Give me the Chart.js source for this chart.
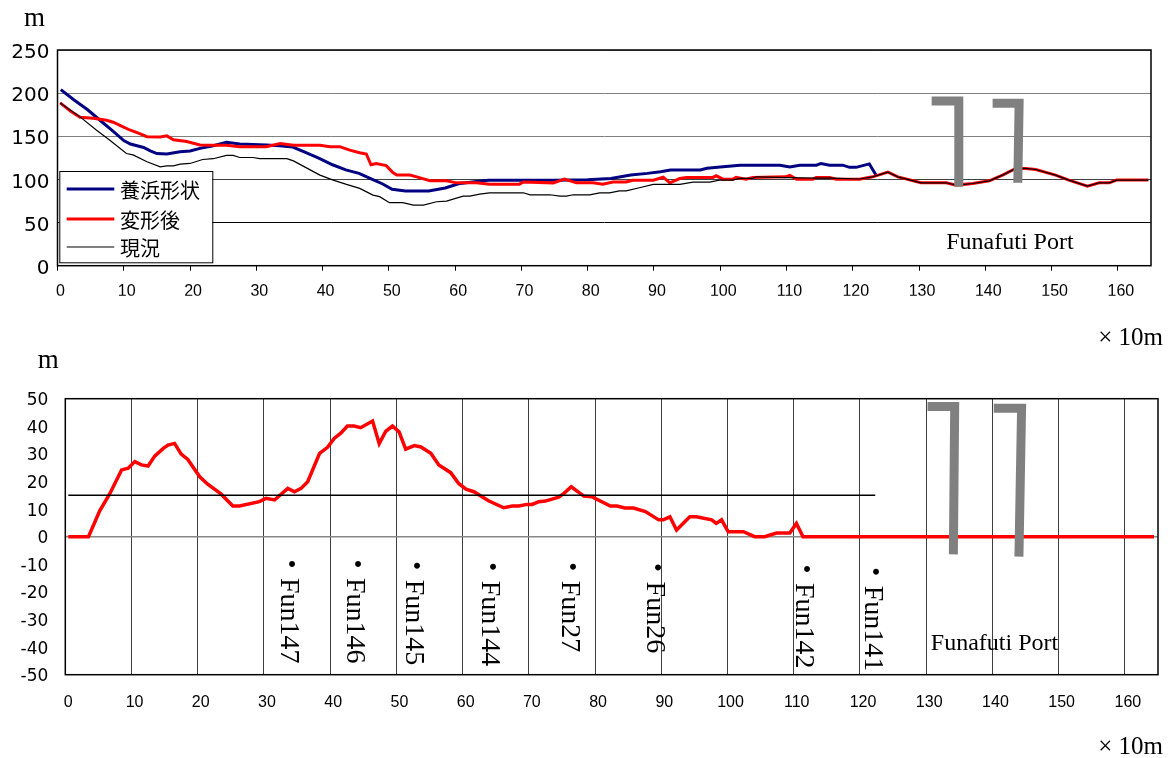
<!DOCTYPE html>
<html>
<head>
<meta charset="utf-8">
<script src="https://cdn.jsdelivr.net/npm/chart.js@4.4.1/dist/chart.umd.min.js"></script>
<style>
  html, body { margin: 0; padding: 0; background: #fff; }
  #wrap { position: relative; width: 1173px; height: 758px; overflow: hidden; }
  canvas { position: absolute; left: 0; top: 0; }
</style>
</head>
<body>
<div id="wrap">
  <canvas id="plan" width="1173" height="758"></canvas>
  <canvas id="diff" width="1173" height="758"></canvas>
</div>
<script>
// ---- Shoreline position (m), distance along coast in units of 10 m ----
const nourishX = [0.5,2.5,4.5,6.5,8.5,10,11,12,13,14,15,16.5,18.5,20,21.5,23.5,25.5,27.5,29.5,31.5,33.5,35.5,37.5,39.5,41.5,43.5,45.5,47.5,49,50.5,52.5,56,58.5,60.5,63.5,65,70,75,80,83.5,86.5,89,91,92.5,97,98,100,103,109,110.5,112,114.5,115.2,116.5,118.5,119.5,120.5,122.5,123.5];
const nourishY = [204,192,181,168,155,145,141,139,137,133,130,129.5,132,133,136,139,143,141,140.5,140,139,137.5,131,124.5,117,111,107,100,95,88.5,86.5,86.5,90,95,98,99,99,99,99.5,101,105,107,109,111,111,113,114.5,116.5,116.5,114.5,116.5,116.5,118.5,116.5,116.5,114,114,118,105];

const afterX = [0.4,2,3.4,5.4,7.4,8.4,9.9,11,12.4,13.5,15.5,16.5,17.5,19.5,21.5,23.5,25.5,27.5,31.5,33.6,35.6,39.6,41.1,42.6,44.1,45.6,46.6,47.3,48.1,49.6,50.6,51.2,53.2,54.2,56.2,58.7,60.2,63.2,65.2,69.7,70.3,74.8,76.5,78.3,80.8,82.3,83.8,85.8,86.8,89.9,91.4,92.4,93.9,94.9,98.9,99.4,100.4,101.9,102.4,103.9,104.9,109.9,110.5,111.5,114,114.5,116.5,117.5,121,123,125.3,126.8,130.3,134.1,135.6,138.1,140.6,142.6,144.6,146.1,147.6,150.6,152.6,155.4,157.2,158.7,159.8,164.6];
const afterY = [188.7,179,172,171,168.6,166.3,161,157,153,149.5,149.3,150.5,146,144,140,139.5,139.5,138,138,141.5,139.5,139.5,138,138,134,131,129.5,117,118.5,116,108,105,105,103,98.5,98.5,96,96,94.5,94.5,97,96,100.3,96,96,94.5,97,97,99,99,102.5,96,101,102.3,102.3,104.2,100.3,100.3,102.3,100.3,102.3,103,104.6,100.3,100.3,102.3,102.3,100.3,100.3,103,108.4,103,96.1,96.1,93.4,95.3,98.4,105,112.7,112.7,111.5,105,99.2,92.2,96.1,96.1,99.2,99.2];

const presentX = [0.4,3.4,5.9,7.9,10.4,11.4,13.5,15.5,16.5,17.5,18.5,20,21.9,23.5,25.5,26.5,27.5,29.5,30.5,34.6,35.6,39.6,41.6,43.6,45.6,47.6,48.6,50.1,52.1,53.7,55.2,57.2,58.7,61.2,62.2,63.7,65.2,70.3,71.3,74.3,75.8,76.8,77.8,80.3,81.8,83.3,84.8,85.8,87.8,89.9,93.9,95.9,98.4,99.9,101.9,102.9,104.9,105.4,110,114.5,117,121,123,125.3,126.8,130.3,134.1,135.6,138.1,140.6,142.6,144.6,146.1,147.6,150.6,152.6,155.4,157.2,158.7,159.8,164.6];
const presentY = [188.7,172.5,157,145.5,130,128.4,120.4,114.6,115.8,115.8,117.7,118.5,123.1,124,127.8,127.8,125.4,125.4,124,124,121.5,105,99.2,94.2,89.6,81.8,80,73,73,70.3,70.3,74.1,74.8,80.7,80.7,83,84.5,84.5,82.2,82.2,80.7,80.7,82.2,82.2,84.5,84.5,86.8,86.8,90.3,94.2,94.2,96.9,96.9,99.2,99.2,101.1,101.1,103,102,101.5,101.5,100.5,103,108.4,103,96.1,96.1,93.4,95.3,98.4,105,112.7,112.7,111.5,105,99.2,92.2,96.1,96.1,99.2,99.2];

// ---- Shoreline advance after deformation (m) ----
const advanceX = [0.45,3.5,5.2,6.7,8.5,9.5,10.5,11.5,12.5,13.5,14.8,15.5,16.5,17.5,18.5,20.3,21.5,23.5,25.3,26.3,29.3,30.3,31.6,33.6,34.6,35.6,36.6,38.4,39.6,40.6,41.6,42.6,43.6,44.6,46.4,47.4,48.4,49.4,50.4,51.4,52.7,53.7,55.2,56.4,58.2,59.4,60.5,61.7,63.9,66.2,67.5,68.5,69.7,70.5,71.5,72.5,74.5,75.3,76.4,78.3,79.5,82.3,83.3,84.5,85.8,87.6,89.6,90.3,91.3,92.3,94.3,95.3,97.6,98.3,99.1,100.1,102.4,104.1,105.6,107.4,109.4,110.4,111.4,164.4];
const advanceY = [0,0,9.4,15.5,24.2,24.8,27.2,26,25.6,29.2,32,33.2,33.8,29.9,28,21.7,19,15.5,11.1,11.1,12.7,13.9,13.3,17.5,16.3,17.5,19.9,30.2,32.4,35.6,37.5,40.1,40.1,39.5,41.9,33.7,38.2,40.1,38,31.7,33,32.5,30.2,26,23.2,19.3,17.2,16.3,13,10.5,11.1,11.1,11.7,11.7,12.7,12.9,14.3,15.7,18.1,14.7,14.5,11.1,11.1,10.4,10.4,9.1,6.1,6.1,7.2,2.4,7.2,7.2,6.1,4.8,6.1,1.8,1.8,0,0,1.3,1.3,4.8,0,0];

// reference advance line (15 m) over the nourished reach
const refLineX = [0.45, 122.3];
const refLineY = [15, 15];

// ---- Port breakwaters (plan outline) ----
const pierAX = [131.9, 136.0, 136.0], pierAY = [190.9, 190.9, 91.4];
const pierBX = [141.1, 145.1, 144.9], pierBY = [188.3, 188.3, 96.1];
const pierAX2 = [130.2, 134.3, 134.1], pierAY2 = [47.2, 47.2, -6.4];
const pierBX2 = [140.2, 144.4, 144.0], pierBY2 = [46.5, 46.5, -7.2];

// ---- Survey stations ----
const stationNames = ['・Fun147','・Fun146','・Fun145','・Fun144','・Fun27','・Fun26','・Fun142','・Fun141'];
const stationX = [34.2, 44.1, 53.0, 64.5, 76.6, 89.5, 111.9, 122.3];
const stationY = [-9.9, -9.9, -10.5, -10.9, -10.9, -11.2, -11.7, -12.7];

// ---- Axis ticks ----
const xTicks = [0,10,20,30,40,50,60,70,80,90,100,110,120,130,140,150,160];
const planYTicks = [0,50,100,150,200,250];
const diffYTicks = [-50,-40,-30,-20,-10,0,10,20,30,40,50];

const seriesNames = ['養浜形状', '変形後', '現況'];

const toPoints = (xs, ys) => xs.map((x, i) => ({ x: x, y: ys[i] }));
const setTicks = vals => scale => { scale.ticks = vals.map(v => ({ value: v })); };

const SERIF = '"Liberation Serif", "Noto Sans CJK JP", serif';
const CJK = '"Noto Sans CJK JP", sans-serif';

// chart-area frame
const framePlugin = {
  id: 'frame',
  afterDraw(chart) {
    const a = chart.chartArea, c = chart.ctx;
    c.save();
    c.strokeStyle = '#000';
    c.lineWidth = 1.5;
    c.strokeRect(a.left, a.top, a.right - a.left, a.bottom - a.top);
    c.restore();
  }
};

// boxed legend inside the plot
const boxLegendPlugin = {
  id: 'boxLegend',
  afterDraw(chart, args, o) {
    if (!o || !o.box) return;
    const c = chart.ctx, b = o.box;
    c.save();
    c.fillStyle = '#fff';
    c.fillRect(b.left, b.top, b.right - b.left, b.bottom - b.top);
    c.strokeStyle = '#000';
    c.lineWidth = 1;
    c.strokeRect(b.left + 0.5, b.top + 0.5, b.right - b.left, b.bottom - b.top);
    c.font = o.font;
    c.textBaseline = 'middle';
    c.textAlign = 'left';
    o.rows.forEach((dy, i) => {
      const ds = chart.data.datasets[i];
      const y = b.top + dy;
      c.strokeStyle = ds.borderColor;
      c.lineWidth = ds.borderWidth;
      c.beginPath();
      c.moveTo(o.lineFrom, y);
      c.lineTo(o.lineTo, y);
      c.stroke();
      c.fillStyle = '#000';
      c.fillText(ds.label, o.textX, y + 1);
    });
    c.restore();
  }
};

// free text (page or data coordinates, optional rotation)
const notesPlugin = {
  id: 'notes',
  afterDraw(chart, args, o) {
    const c = chart.ctx, xs = chart.scales.x, ys = chart.scales.y;
    (o.items || []).forEach(it => {
      c.save();
      c.font = it.font;
      c.fillStyle = '#000';
      c.textAlign = it.align || 'left';
      c.textBaseline = 'alphabetic';
      const px = (it.page ? it.x : xs.getPixelForValue(it.x)) + (it.dx || 0);
      const py = (it.page ? it.y : ys.getPixelForValue(it.y)) + (it.dy || 0);
      c.translate(px, py);
      if (it.rotate) c.rotate(it.rotate);
      c.fillText(it.text, 0, 0);
      c.restore();
    });
  }
};

const pierStyle = { borderColor: '#808080', borderWidth: 9, borderJoinStyle: 'miter', borderCapStyle: 'butt' };

// ---------- plan view ----------
new Chart(document.getElementById('plan'), {
  type: 'line',
  data: {
    datasets: [
      { label: seriesNames[0], data: toPoints(nourishX, nourishY), borderColor: '#000080', borderWidth: 3, order: 3 },
      { label: seriesNames[1], data: toPoints(afterX, afterY), borderColor: '#ff0000', borderWidth: 3, order: 2 },
      { label: seriesNames[2], data: toPoints(presentX, presentY), borderColor: '#000000', borderWidth: 1.2, order: 1 },
      Object.assign({ label: 'pierA', data: toPoints(pierAX, pierAY), order: 0 }, pierStyle),
      Object.assign({ label: 'pierB', data: toPoints(pierBX, pierBY), order: 0 }, pierStyle)
    ]
  },
  options: {
    responsive: false, animation: false, devicePixelRatio: 1,
    layout: { padding: { top: 50, left: 0, right: 22, bottom: 462.3 } },
    elements: { point: { radius: 0 }, line: { tension: 0, fill: false } },
    plugins: {
      legend: { display: false }, tooltip: { enabled: false },
      boxLegend: {
        box: { left: 59.3, top: 171, right: 212.3, bottom: 262.3 },
        rows: [18, 48, 76], lineFrom: 66.7, lineTo: 114.3, textX: 120,
        font: '20px ' + CJK
      },
      notes: {
        items: [
          { text: 'm', page: true, x: 24, y: 26, font: '27px ' + SERIF },
          { text: '× 10m', page: true, x: 1163, y: 345, align: 'right', font: '25px ' + SERIF },
          { text: 'Funafuti Port', x: 134.1, y: 19.3, font: '24px ' + SERIF }
        ]
      }
    },
    scales: {
      x: {
        type: 'linear', min: 0, max: 165,
        afterBuildTicks: setTicks(xTicks),
        afterFit: s => { s.height = 30; },
        grid: { drawOnChartArea: false, tickLength: 5, color: '#000' },
        border: { display: false },
        ticks: { color: '#000', padding: 11, labelOffset: 3, maxRotation: 0, autoSkip: false,
                 font: { family: '"Liberation Sans", Arial, sans-serif', size: 16 } }
      },
      y: {
        min: 0, max: 250,
        afterBuildTicks: setTicks(planYTicks),
        afterFit: s => { s.width = 57.5; },
        grid: { drawTicks: false,
                color: ctx => ctx.tick && ctx.tick.value === 50 ? '#000' : (ctx.tick && ctx.tick.value === 100 ? '#404040' : '#808080') },
        border: { display: false },
        ticks: { color: '#000', padding: 8, labelOffset: 3,
                 font: { family: '"DejaVu Sans", sans-serif', size: 20 } }
      }
    }
  },
  plugins: [framePlugin, boxLegendPlugin, notesPlugin]
});

// ---------- advance profile ----------
const stationNotes = stationNames.map((t, i) => ({
  text: t, x: stationX[i], y: stationY[i], dx: -10.6, dy: -14,
  rotate: Math.PI / 2, font: '28px ' + SERIF
}));

new Chart(document.getElementById('diff'), {
  type: 'line',
  data: {
    datasets: [
      { label: '変形量', data: toPoints(advanceX, advanceY), borderColor: '#ff0000', borderWidth: 3.5, order: 2 },
      { label: '基準', data: toPoints(refLineX, refLineY), borderColor: '#000', borderWidth: 1.5, order: 1 },
      Object.assign({ label: 'pierA', data: toPoints(pierAX2, pierAY2), order: 0 }, pierStyle),
      Object.assign({ label: 'pierB', data: toPoints(pierBX2, pierBY2), order: 0 }, pierStyle)
    ]
  },
  options: {
    responsive: false, animation: false, devicePixelRatio: 1,
    layout: { padding: { top: 398.7, left: 0, right: 15, bottom: 43.3 } },
    elements: { point: { radius: 0 }, line: { tension: 0, fill: false } },
    plugins: {
      legend: { display: false }, tooltip: { enabled: false },
      notes: {
        items: [
          { text: 'm', page: true, x: 37.7, y: 368, font: '27px ' + SERIF },
          { text: '× 10m', page: true, x: 1163, y: 754, align: 'right', font: '25px ' + SERIF },
          { text: 'Funafuti Port', x: 130.7, y: -41, font: '24px ' + SERIF }
        ].concat(stationNotes)
      }
    },
    scales: {
      x: {
        type: 'linear', min: 0, max: 165,
        afterBuildTicks: setTicks(xTicks),
        afterFit: s => { s.height = 40; },
        grid: { drawTicks: false, color: '#404040' },
        border: { display: false },
        ticks: { color: '#000', padding: 18, labelOffset: 3, maxRotation: 0, autoSkip: false,
                 font: { family: '"Liberation Sans", Arial, sans-serif', size: 16 } }
      },
      y: {
        min: -50, max: 50,
        afterBuildTicks: setTicks(diffYTicks),
        afterFit: s => { s.width = 65.3; },
        grid: { drawTicks: false, lineWidth: 1.5,
                color: ctx => ctx.tick && ctx.tick.value === 0 ? '#888' : 'rgba(0,0,0,0)' },
        border: { display: false },
        ticks: { color: '#000', padding: 17, labelOffset: 2,
                 font: { family: '"DejaVu Sans", sans-serif', size: 17 } }
      }
    }
  },
  plugins: [framePlugin, notesPlugin]
});
</script>
</body>
</html>
